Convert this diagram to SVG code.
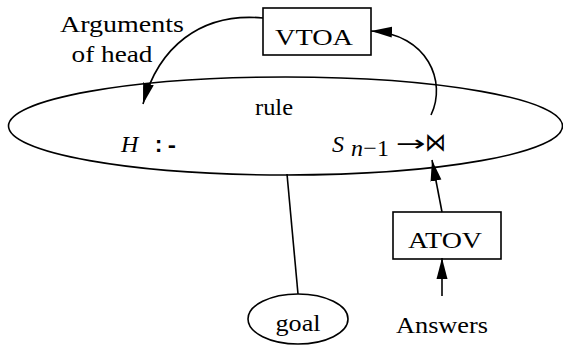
<svg xmlns="http://www.w3.org/2000/svg" width="563" height="345" viewBox="0 0 563 345">
<style>
.ln{fill:none;stroke:#000;stroke-width:1.6}
.t{font-family:'Liberation Serif','DejaVu Serif','Times New Roman',serif;font-size:24px;fill:#000}
.m{font-family:'Liberation Mono','DejaVu Sans Mono',monospace;font-size:22px;font-weight:bold;fill:#000}
.c{text-anchor:middle}
</style>
<defs>
<marker id="ah" markerUnits="userSpaceOnUse" markerWidth="22" markerHeight="12" refX="21" refY="6" orient="auto">
<path d="M0,0.5 L21,6 L0,11.5 z" fill="#000"/>
</marker>
</defs>
<rect width="563" height="345" fill="#fff"/>
<g id="rule">
<ellipse class="ln" cx="285.5" cy="126" rx="277" ry="49"/>
<text class="t" x="255" y="115" textLength="38" lengthAdjust="spacingAndGlyphs">rule</text>
<text class="t" x="121" y="152" font-style="italic" font-size="25">H</text>
<text class="m" x="152" y="152">:-</text>
<text class="t" x="332" y="152" font-style="italic" font-size="26">S</text>
<text class="t" x="351" y="156" font-size="17" textLength="38"><tspan font-style="italic">n</tspan>−1</text>
<text x="396" y="151" font-family="'DejaVu Sans',sans-serif" font-size="22" textLength="30" lengthAdjust="spacingAndGlyphs">→</text>
<text x="425" y="151" font-family="'DejaVu Sans',sans-serif" font-size="26" textLength="21" lengthAdjust="spacingAndGlyphs">⋈</text>
</g>
<g id="vtoa">
<rect class="ln" x="263" y="8" width="108" height="47"/>
<text class="t c" x="314" y="45" textLength="78" lengthAdjust="spacingAndGlyphs">VTOA</text>
</g>
<g id="atov">
<rect class="ln" x="393" y="212" width="108" height="47"/>
<text class="t c" x="445" y="248" textLength="74" lengthAdjust="spacingAndGlyphs">ATOV</text>
</g>
<g id="goal">
<ellipse class="ln" cx="298" cy="319" rx="50" ry="25"/>
<text class="t c" x="298" y="331" textLength="45" lengthAdjust="spacingAndGlyphs">goal</text>
</g>
<g id="answers">
<text class="t c" x="442" y="333" textLength="92" lengthAdjust="spacingAndGlyphs">Answers</text>
</g>
<g id="args-label">
<text class="t c" x="122" y="32" textLength="124" lengthAdjust="spacingAndGlyphs">Arguments</text>
<text class="t c" x="112" y="62" textLength="81" lengthAdjust="spacingAndGlyphs">of head</text>
</g>
<g id="connectors">
<path class="ln" d="M263,18 C200,12 158,48 143,104" marker-end="url(#ah)"/>
<path class="ln" d="M431,115 C447,82 428,34 371,31" marker-end="url(#ah)"/>
<path class="ln" d="M442,212 L432,160" marker-end="url(#ah)"/>
<path class="ln" d="M442,296 L442,258" marker-end="url(#ah)"/>
<path class="ln" d="M287,174 L298,294"/>
</g>
</svg>
